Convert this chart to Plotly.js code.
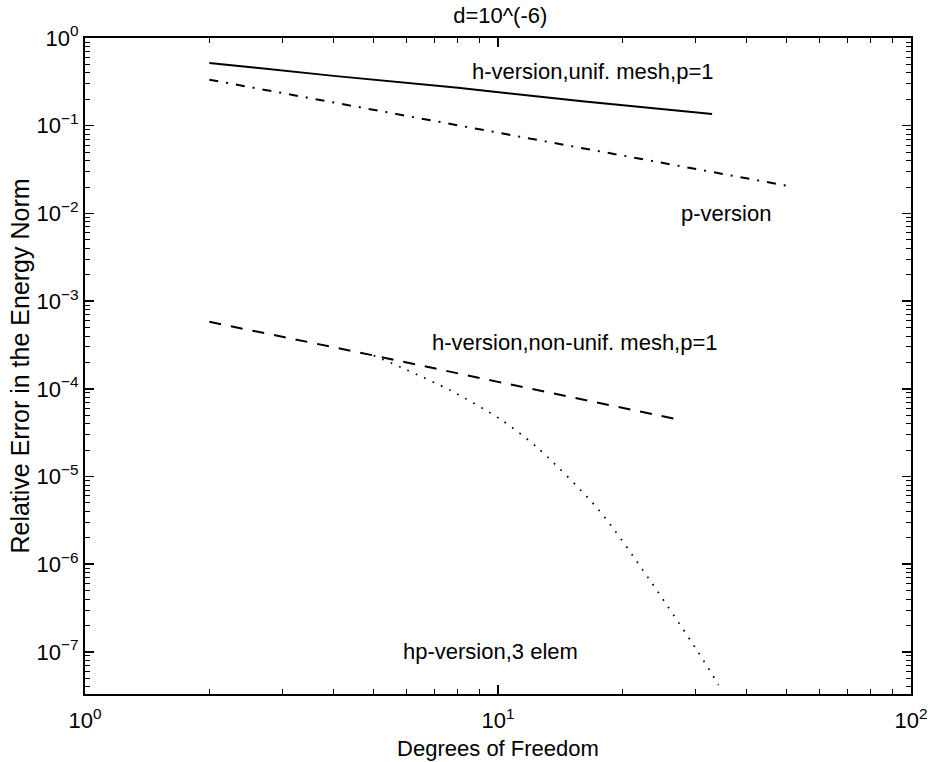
<!DOCTYPE html>
<html>
<head>
<meta charset="utf-8">
<script src="https://cdn.plot.ly/plotly-3.0.1.min.js"></script>
<style>html,body{margin:0;padding:0;background:#fff;}#chart{width:935px;height:762px;}</style>
</head>
<body>
<div id="chart"></div>
<script>
// h-version, uniform mesh, p=1 (solid)
const hUnifDof = [2, 4, 8, 16, 33];
const hUnifErr = [0.52, 0.37, 0.27, 0.19, 0.136];
// p-version (dash-dot)
const pDof = [2, 5, 10, 20, 50];
const pErr = [0.335, 0.152, 0.083, 0.046, 0.0207];
// h-version, non-uniform mesh, p=1 (dashed)
const hNonDof = [2, 5, 10, 20, 27.7];
const hNonErr = [5.8e-4, 2.4e-4, 1.2e-4, 6.1e-5, 4.4e-5];
// hp-version, 3 elements (dotted)
const hpDof = [5, 6, 7.7, 10.2, 12.5, 17.5, 23.1, 30.5, 34.2];
const hpErr = [2.4e-4, 1.65e-4, 9.5e-5, 4.4e-5, 2.1e-5, 4.2e-6, 7.0e-7, 1.0e-7, 4.2e-8];

const labels = ["h-version,unif. mesh,p=1", "p-version", "h-version,non-unif. mesh,p=1", "hp-version,3 elem"];
const labelX = [17.0, 35.6, 15.4, 9.6];
const labelY = [0.41, 0.0101, 3.35e-4, 1.0e-7];

const xTickVals = [1, 10, 100];
const xTickText = ["10<sup>0</sup>", "10<sup>1</sup>", "10<sup>2</sup>"];
const yTickVals = [1e-7, 1e-6, 1e-5, 1e-4, 1e-3, 1e-2, 1e-1, 1];
const yTickText = ["10<sup>−7</sup>", "10<sup>−6</sup>", "10<sup>−5</sup>", "10<sup>−4</sup>", "10<sup>−3</sup>", "10<sup>−2</sup>", "10<sup>−1</sup>", "10<sup>0</sup>"];

function minorVals(lo, hi) {
  const v = [];
  for (let e = lo; e < hi; e++) for (let m = 2; m <= 9; m++) v.push(m * Math.pow(10, e));
  return v;
}

const FONT = "Liberation Sans, Arial, Helvetica, sans-serif";
const FS = 22;
const lineW = 2;

const traces = [
  {x: hUnifDof, y: hUnifErr, mode: "lines", line: {color: "#000", width: lineW}},
  {x: pDof, y: pErr, mode: "lines", line: {color: "#000", width: lineW, dash: "9px,8px,2px,8px"}},
  {x: hNonDof, y: hNonErr, mode: "lines", line: {color: "#000", width: lineW, dash: "12px,10px"}},
  {x: hpDof, y: hpErr, mode: "lines", line: {color: "#000", width: 1.7, dash: "1.7px,7.5px", shape: "spline", smoothing: 0.8}}
];

const annotations = labels.map((t, i) => ({
  text: t, x: Math.log10(labelX[i]), y: Math.log10(labelY[i]), xref: "x", yref: "y",
  showarrow: false, xanchor: "center", yanchor: "middle",
  font: {family: FONT, size: FS, color: "#000"}
}));

const axisCommon = {
  type: "log", showline: true, linecolor: "#000", linewidth: 2, mirror: "allticks",
  ticks: "inside", ticklen: 9, tickwidth: 1.5, tickcolor: "#000", showgrid: false, zeroline: false,
  tickmode: "array", tickfont: {family: FONT, size: FS, color: "#000"}
};

const layout = {
  width: 935, height: 762,
  margin: {l: 85, r: 24, t: 38, b: 68},
  paper_bgcolor: "#fff", plot_bgcolor: "#fff",
  showlegend: false,
  title: {text: "d=10^(-6)", font: {family: FONT, size: FS, color: "#000"}, x: 0.535, xanchor: "center", y: 0.99, yanchor: "top"},
  xaxis: Object.assign({}, axisCommon, {
    range: [0, 2], tickvals: xTickVals, ticktext: xTickText, ticklabelstandoff: 6,
    minor: {tickmode: "array", tickvals: minorVals(0, 2), ticks: "inside", ticklen: 5, tickcolor: "#000", tickwidth: 1},
    title: {text: "Degrees of Freedom", font: {family: FONT, size: FS, color: "#000"}, standoff: 8}
  }),
  yaxis: Object.assign({}, axisCommon, {
    range: [-7.48, 0], tickvals: yTickVals, ticktext: yTickText,
    minor: {tickmode: "array", tickvals: minorVals(-8, 0), ticks: "inside", ticklen: 5, tickcolor: "#000", tickwidth: 1},
    title: {text: "Relative Error in the Energy Norm", font: {family: FONT, size: 25, color: "#000"}, standoff: 0}
  }),
  annotations: annotations
};

Plotly.newPlot("chart", traces, layout, {displayModeBar: false, staticPlot: true});
</script>
</body>
</html>
